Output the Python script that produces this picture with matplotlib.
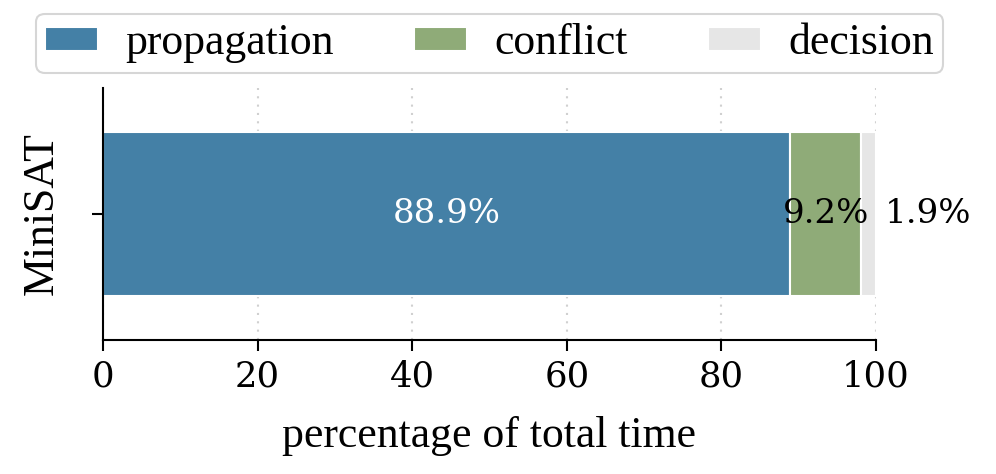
import matplotlib
matplotlib.use("Agg")
import matplotlib.pyplot as plt

categories = ["MiniSAT"]
series_names = ["propagation", "conflict", "decision"]
propagation = [88.9]
conflict = [9.2]
decision = [1.9]
colors = ["#4480a6", "#8fab78", "#e6e6e6"]
xticks = [0, 20, 40, 60, 80, 100]

fig = plt.figure(figsize=(9.96, 4.74), dpi=100)
ax = fig.add_axes([103/996, 1-340/474, (876-103)/996, (340-88)/474])

times = "Liberation Serif"
dv = "DejaVu Serif"

values = [propagation, conflict, decision]
left = [0.0] * len(categories)
bars = []
for name, vals, col in zip(series_names, values, colors):
    b = ax.barh(categories, vals, left=left, height=0.8, color=col,
                edgecolor="white", linewidth=1.5, label=name, zorder=2)
    bars.append(b)
    left = [l + v for l, v in zip(left, vals)]

ax.bar_label(bars[0], labels=[f"{v:.1f}%" for v in propagation], label_type="center",
             color="white", fontsize=24.5, family=dv)
ax.bar_label(bars[1], labels=[f"{v:.1f}%" for v in conflict], label_type="center",
             color="black", fontsize=24.5, family=dv)
ax.bar_label(bars[2], labels=[f"{v:.1f}%" for v in decision], label_type="edge",
             padding=6, color="black", fontsize=24.5, family=dv)

ax.set_xlim(0, 100)
ax.set_ylim(-0.615, 0.615)
ax.set_xticks(xticks)
ax.set_xticklabels([str(t) for t in xticks], fontsize=25.5, family=dv)
for lab in ax.get_yticklabels():
    lab.set_visible(False)
ax.set_xlabel("percentage of total time", fontsize=31.5, family=times, labelpad=16)
ax.set_ylabel("MiniSAT", fontsize=31.5, family=times, labelpad=22)

ax.grid(axis="x", linestyle=(0, (1, 3)), color="#d0d0d0", linewidth=1.5, zorder=0)
ax.set_axisbelow(True)
for s in ["top", "right"]:
    ax.spines[s].set_visible(False)
for s in ["left", "bottom"]:
    ax.spines[s].set_linewidth(1.5)
ax.tick_params(axis="both", length=8, width=1.5, pad=6)

leg = ax.legend(loc="lower center", bbox_to_anchor=(0.5, 1.06), ncol=3,
                prop={"family": times, "size": 31.5}, frameon=True, fancybox=True,
                handlelength=1.2, handleheight=0.48, handletextpad=0.62,
                columnspacing=1.85, borderpad=0.22, borderaxespad=0)
leg.get_frame().set_edgecolor("#cccccc")
leg.get_frame().set_linewidth(1.5)

fig.savefig("out.png", dpi=100)
